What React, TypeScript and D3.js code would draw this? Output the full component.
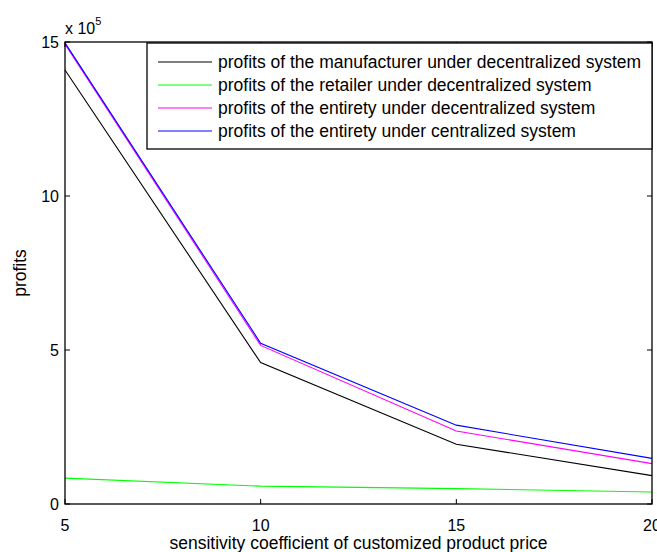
import React, { useEffect, useRef } from 'react';
import * as d3 from 'd3';

// sensitivity coefficient values (x axis)
const sensitivity = [5, 10, 15, 20];

// profits, in units of 10^5
const manufacturerDecentral = [14.09, 4.59, 1.94, 0.92];
const retailerDecentral = [0.84, 0.58, 0.5, 0.39];
const entiretyDecentral = [14.93, 5.15, 2.37, 1.31];
const entiretyCentral = [14.97, 5.22, 2.56, 1.48];

const seriesNames = [
  'profits of the manufacturer under decentralized system',
  'profits of the retailer under decentralized system',
  'profits of the entirety under decentralized system',
  'profits of the entirety under centralized system',
];
const seriesColors = ['#000000', '#00ff00', '#ff00ff', '#0000ff'];

const xTicks = [5, 10, 15, 20];
const yTicks = [0, 5, 10, 15];

const ProfitsChart: React.FC = () => {
  const chartRef = useRef<SVGSVGElement | null>(null);

  useEffect(() => {
    if (!chartRef.current) return;

    const width = 657;
    const height = 552;
    const left = 65;
    const right = 652;
    const top = 42;
    const bottom = 504;
    const font = 'Liberation Sans, Arial, sans-serif';

    const svg = d3.select(chartRef.current);
    svg.selectAll('*').remove();
    svg.attr('width', width).attr('height', height);

    svg.append('rect').attr('width', width).attr('height', height).attr('fill', '#fff');

    const x = d3.scaleLinear().domain([5, 20]).range([left, right]);
    const y = d3.scaleLinear().domain([0, 15]).range([bottom, top]);

    const allSeries = [manufacturerDecentral, retailerDecentral, entiretyDecentral, entiretyCentral];

    const line = d3
      .line<number>()
      .x((_, i) => x(sensitivity[i]))
      .y((d) => y(d));

    allSeries.forEach((values, i) => {
      svg
        .append('path')
        .datum(values)
        .attr('d', line as any)
        .style('stroke', seriesColors[i])
        .style('stroke-width', 1.1)
        .style('fill', 'none');
    });

    // axes box
    svg
      .append('rect')
      .attr('x', left)
      .attr('y', top)
      .attr('width', right - left)
      .attr('height', bottom - top)
      .attr('fill', 'none')
      .attr('stroke', '#000')
      .attr('stroke-width', 1.3);

    const tickLen = 5;
    const g = svg.append('g').attr('stroke', '#000').attr('stroke-width', 1);
    xTicks.forEach((t) => {
      g.append('line').attr('x1', x(t)).attr('x2', x(t)).attr('y1', bottom).attr('y2', bottom - tickLen);
      g.append('line').attr('x1', x(t)).attr('x2', x(t)).attr('y1', top).attr('y2', top + tickLen);
    });
    yTicks.forEach((t) => {
      g.append('line').attr('x1', left).attr('x2', left + tickLen).attr('y1', y(t)).attr('y2', y(t));
      g.append('line').attr('x1', right).attr('x2', right - tickLen).attr('y1', y(t)).attr('y2', y(t));
    });

    svg
      .append('g')
      .selectAll('text')
      .data(xTicks)
      .join('text')
      .attr('x', (d) => x(d))
      .attr('y', bottom + 27)
      .attr('text-anchor', 'middle')
      .style('font-family', font)
      .style('font-size', '16px')
      .text((d) => d);

    svg
      .append('g')
      .selectAll('text')
      .data(yTicks)
      .join('text')
      .attr('x', left - 6)
      .attr('y', (d) => y(d))
      .attr('dy', '0.35em')
      .attr('text-anchor', 'end')
      .style('font-family', font)
      .style('font-size', '16px')
      .text((d) => d);

    // exponent label
    const expo = svg
      .append('text')
      .attr('x', left)
      .attr('y', top - 8)
      .style('font-family', font)
      .style('font-size', '16px');
    expo.append('tspan').text('x 10');
    expo.append('tspan').attr('dy', -9).style('font-size', '11px').text('5');

    svg
      .append('text')
      .attr('x', (left + right) / 2)
      .attr('y', 549)
      .attr('text-anchor', 'middle')
      .style('font-family', font)
      .style('font-size', '17.5px')
      .text('sensitivity coefficient of customized product price');

    svg
      .append('text')
      .attr('transform', `translate(20,${(top + bottom) / 2}) rotate(-90)`)
      .attr('text-anchor', 'middle')
      .attr('dy', '0.35em')
      .style('font-family', font)
      .style('font-size', '17.5px')
      .text('profits');

    // legend
    const lgLeft = 147;
    const lgTop = 43;
    const rowH = 23;
    svg
      .append('rect')
      .attr('x', lgLeft)
      .attr('y', lgTop)
      .attr('width', right - lgLeft)
      .attr('height', 106)
      .attr('fill', '#fff')
      .attr('stroke', '#000')
      .attr('stroke-width', 1.3);

    seriesNames.forEach((name, i) => {
      const cy = lgTop + 19 + i * rowH;
      svg
        .append('line')
        .attr('x1', 158)
        .attr('x2', 212)
        .attr('y1', cy)
        .attr('y2', cy)
        .style('stroke', seriesColors[i])
        .style('stroke-width', 1.1);
      svg
        .append('text')
        .attr('x', 218)
        .attr('y', cy)
        .attr('dy', '0.35em')
        .style('font-family', font)
        .style('font-size', '17.5px')
        .text(name);
    });
  }, []);

  return <svg ref={chartRef} style={{ position: 'absolute', left: 0, top: 0 }}></svg>;
};

export default function App() {
  return <ProfitsChart />;
}
